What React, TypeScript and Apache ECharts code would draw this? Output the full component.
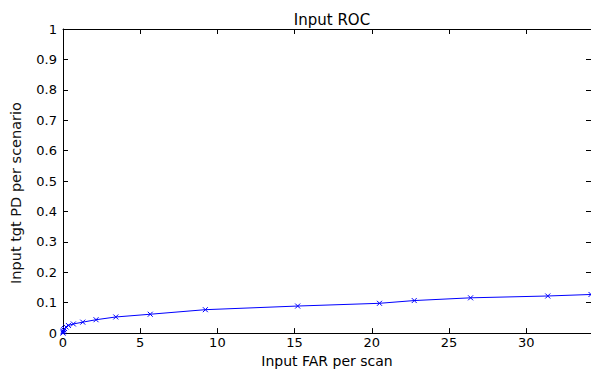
import React, { useEffect, useRef } from "react";
import * as echarts from "echarts";

const titleText = "Input ROC";
const xName = "Input FAR per scan";
const yName = "Input tgt PD per scenario";
const farValues = [0, 0.01, 0.02, 0.05, 0.1, 0.2, 0.35, 0.67, 1.28, 2.14, 3.42, 5.65, 9.22, 15.2, 20.5, 22.75, 26.4, 31.4, 34.2];
const pdValues = [0, 0.004, 0.007, 0.011, 0.015, 0.02, 0.025, 0.03, 0.036, 0.044, 0.053, 0.062, 0.077, 0.089, 0.098, 0.107, 0.116, 0.122, 0.127];
const yTicks = [0, 0.1, 0.2, 0.3, 0.4, 0.5, 0.6, 0.7, 0.8, 0.9, 1];

const FONT = "DejaVu Sans, Liberation Sans, Arial, sans-serif";

export default function App() {
  const ref = useRef<HTMLDivElement>(null);
  useEffect(() => {
    if (!ref.current) return;
    const chart = echarts.init(ref.current, null, { renderer: "svg" });
    const data = farValues.map((x, i) => [x, pdValues[i]]);
    const mkLine = () => ({ show: true, onZero: false, lineStyle: { color: "#000", width: 1 } });
    const mkTick = () => ({ show: true, inside: true, length: 5, lineStyle: { color: "#000", width: 1 } });
    const xMax = farValues[farValues.length - 1];
    chart.setOption({
      animation: false,
      backgroundColor: "#fff",
      title: {
        text: titleText,
        left: 327,
        top: 7,
        textAlign: "center",
        textStyle: { fontFamily: FONT, fontSize: 15, fontWeight: "normal", color: "#000" },
      },
      graphic: [
        {
          type: "text",
          x: 16,
          y: 193,
          rotation: Math.PI / 2,
          style: {
            text: yName,
            fontFamily: FONT,
            fontSize: 14.5,
            fill: "#111",
            textAlign: "center",
            textVerticalAlign: "middle",
          },
        },
      ],
      grid: { left: 63, right: -1, top: 29, bottom: 33, containLabel: false },
      xAxis: [
        {
          type: "value",
          position: "bottom",
          min: 0,
          max: xMax,
          interval: 5,
          name: xName,
          nameLocation: "middle",
          nameGap: 18,
          nameTextStyle: { fontFamily: FONT, fontSize: 14, color: "#000" },
          axisLine: mkLine(),
          axisTick: mkTick(),
          splitLine: { show: false },
          axisLabel: {
            fontFamily: FONT,
            fontSize: 13,
            color: "#000",
            margin: 3,
            showMaxLabel: false,
            formatter: (v: number) => (Math.abs(v % 5) < 1e-9 ? String(v) : ""),
          },
        },
        {
          type: "value",
          position: "top",
          min: 0,
          max: xMax,
          interval: 5,
          axisLine: mkLine(),
          axisTick: mkTick(),
          axisLabel: { show: false },
          splitLine: { show: false },
        },
      ],
      yAxis: [
        {
          type: "value",
          position: "left",
          min: yTicks[0],
          max: yTicks[yTicks.length - 1],
          interval: 0.1,
          axisLine: mkLine(),
          axisTick: mkTick(),
          splitLine: { show: false },
          axisLabel: {
            fontFamily: FONT,
            fontSize: 13,
            color: "#000",
            margin: 6,
            formatter: (v: number) => String(Math.round(v * 10) / 10),
          },
        },
        {
          type: "value",
          position: "right",
          min: 0,
          max: 1,
          interval: 0.1,
          axisLine: mkLine(),
          axisTick: mkTick(),
          axisLabel: { show: false },
          splitLine: { show: false },
        },
      ],
      series: [
        {
          type: "line",
          data,
          xAxisIndex: 0,
          yAxisIndex: 0,
          lineStyle: { color: "#0000ff", width: 1 },
          symbol: "path://M0,0L10,10M10,0L0,10",
          symbolSize: 5,
          showSymbol: true,
          itemStyle: { color: "#0000ff", borderColor: "#0000ff", borderWidth: 1 },
          clip: false,
        },
      ],
    });
    return () => chart.dispose();
  }, []);
  return (
    <div
      ref={ref}
      style={{ position: "absolute", left: 0, top: 0, width: 591, height: 373, background: "#fff" }}
    />
  );
}
